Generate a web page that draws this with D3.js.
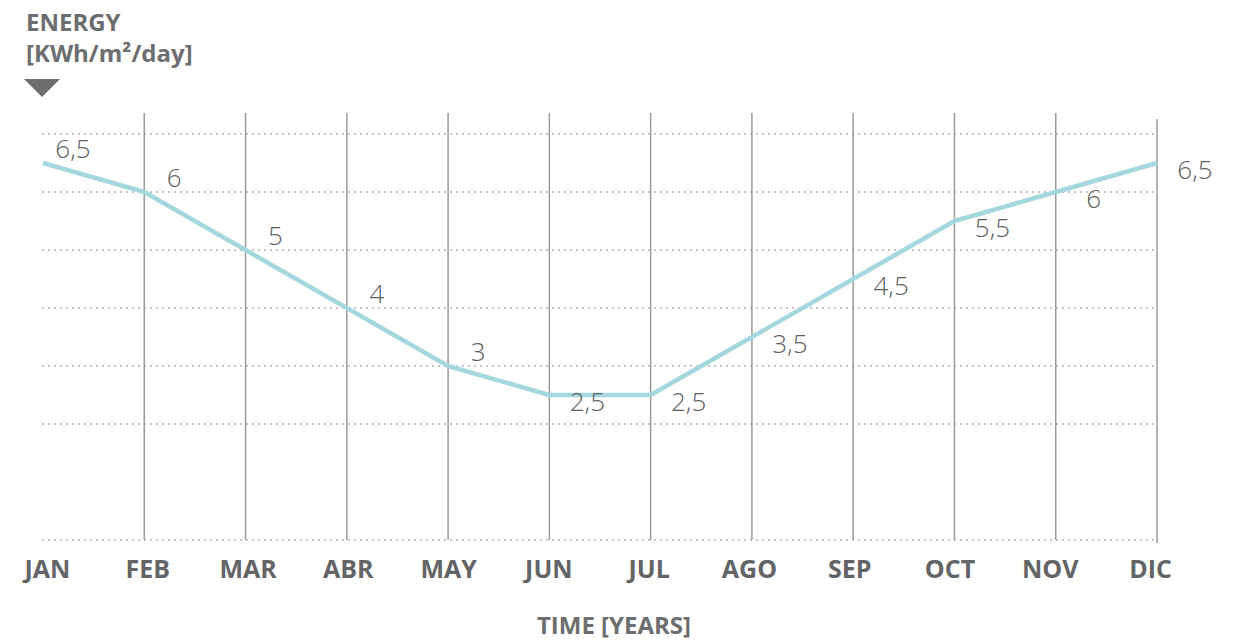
<!DOCTYPE html>
<html>
<head>
<meta charset="utf-8">
<script src="https://cdn.jsdelivr.net/npm/d3@7"></script>
<style>
  html, body { margin: 0; padding: 0; background: #fff; }
  svg { display: block; font-family: "Open Sans", sans-serif; }
</style>
</head>
<body>
<svg id="chart" width="1239" height="640"></svg>
<script>
// ---- data ----
const months = ["JAN","FEB","MAR","ABR","MAY","JUN","JUL","AGO","SEP","OCT","NOV","DIC"];
const energy = [6.5, 6, 5, 4, 3, 2.5, 2.5, 3.5, 4.5, 5.5, 6, 6.5];
const valueLabels = ["6,5","6","5","4","3","2,5","2,5","3,5","4,5","5,5","6","6,5"];
const gridValues = [0, 2, 3, 4, 5, 6, 7];
const yTitle = ["ENERGY", "[KWh/m²/day]"];
const xTitle = "TIME [YEARS]";

// ---- layout ----
const svg = d3.select("#chart");
const grey = "#636466";

const x = d3.scalePoint().domain(months).range([43, 1157]);
const xLab = d3.scalePoint().domain(months).range([47, 1150]);
const y = d3.scaleLinear().domain([0, 7]).range([540, 134]);

// horizontal dotted gridlines
svg.append("g").selectAll("line").data(gridValues).join("line")
  .attr("x1", 42).attr("x2", 1155)
  .attr("y1", d => y(d)).attr("y2", d => y(d))
  .attr("stroke", "#8a8a8a").attr("stroke-width", 1.2)
  .attr("stroke-dasharray", "2,4");

// vertical lines (all months except the first)
svg.append("g").selectAll("line").data(months.slice(1)).join("line")
  .attr("x1", d => x(d)).attr("x2", d => x(d))
  .attr("y1", (d, i) => i === months.length - 2 ? 119 : 113)
  .attr("y2", (d, i) => i === months.length - 2 ? 543 : 540)
  .attr("stroke", "#9a9a9a").attr("stroke-width", 1.5);

// line
const line = d3.line().x((d, i) => x(months[i])).y(d => y(d));
svg.append("path").datum(energy)
  .attr("d", line)
  .attr("fill", "none")
  .attr("stroke", "#a6d7dd")
  .attr("stroke-width", 4.5)
  .attr("stroke-linejoin", "round");

// value labels
svg.append("g").selectAll("text").data(energy).join("text")
  .attr("x", (d, i) => x(months[i]) + (i < 5 ? 30 : 38))
  .attr("y", (d, i) => y(d) + (i < 5 ? -5 : 16))
  .attr("text-anchor", "middle")
  .attr("font-size", 26).attr("font-weight", 300)
  .attr("fill", "#5f6062")
  .text((d, i) => valueLabels[i]);

// month axis labels
const xAxis = d3.axisBottom(xLab).tickSize(0).tickPadding(0);
const gx = svg.append("g").attr("transform", "translate(0,560)").call(xAxis);
gx.select(".domain").remove();
gx.selectAll("text")
  .attr("dy", "0.71em")
  .attr("font-family", "'Open Sans', sans-serif")
  .attr("font-size", 25).attr("font-weight", 700)
  .attr("fill", grey);

// x title
svg.append("text")
  .attr("x", 614).attr("y", 634)
  .attr("text-anchor", "middle")
  .attr("font-size", 24).attr("font-weight", 700)
  .attr("fill", "#6d6e70")
  .text(xTitle);

// y title
svg.append("g").selectAll("text").data(yTitle).join("text")
  .attr("x", 26).attr("y", (d, i) => 31 + i * 31)
  .attr("font-size", 24).attr("font-weight", 700)
  .attr("fill", "#6d6e70")
  .text(d => d);

// triangle marker
svg.append("path")
  .attr("d", d3.line()([[24, 79], [60, 79], [42, 97]]) + "Z")
  .attr("fill", "#6d6e70");
</script>
</body>
</html>
